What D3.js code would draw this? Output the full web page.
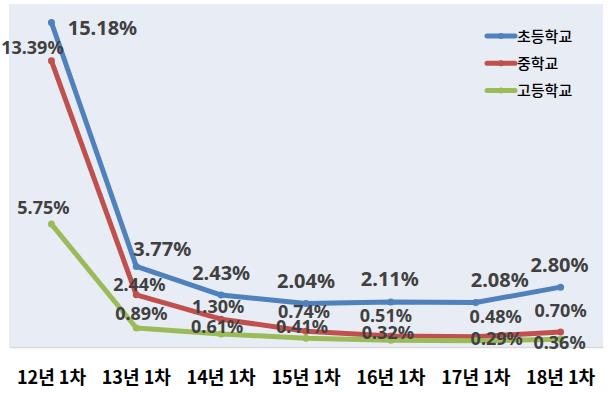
<!DOCTYPE html>
<html>
<head>
<meta charset="utf-8">
<script src="https://cdn.jsdelivr.net/npm/d3@7"></script>
<style>
  html, body { margin: 0; padding: 0; background: #fff; }
  svg { display: block; }
</style>
</head>
<body>
<div id="chart"></div>
<script>
// ---- data ----
const categories = ["12년 1차", "13년 1차", "14년 1차", "15년 1차", "16년 1차", "17년 1차", "18년 1차"];
const seriesNames = ["초등학교", "중학교", "고등학교"];
const elementary = [15.18, 3.77, 2.43, 2.04, 2.11, 2.08, 2.80];
const middle = [13.39, 2.44, 1.30, 0.74, 0.51, 0.48, 0.70];
const high = [5.75, 0.89, 0.61, 0.41, 0.32, 0.29, 0.36];

// ---- layout / style (not data) ----
const W = 608, H = 393;
const plot = { left: 9, right: 603, top: 5, bottom: 347 };
const colors = ["#4F81BD", "#C0504D", "#9BBB59"];
const labelSizes = [20, 18, 18];
// manual label offsets (dx, dy) relative to each point, as in the reference
const labelOffsets = [
  [[51, 12.5], [26, -10], [0, -15], [0, -15], [-1, -16], [24, -16], [-1, -15.5]],
  [[-19, -7], [3, -4], [-3, -6.5], [-2, -13], [-5, -14], [20, -14], [0, -15]],
  [[-8, -10], [5, -8], [-4, -1], [-4, -5], [-3, -1], [21, 4], [-1, 10]]
];

const series = [elementary, middle, high].map((vals, k) => ({ name: seriesNames[k], values: vals, color: colors[k], k }));

const svg = d3.select("#chart").append("svg").attr("width", W).attr("height", H);

const x = d3.scaleBand().domain(categories).range([plot.left, plot.right]).padding(0);
const y = d3.scaleLinear().domain([0, 16]).range([plot.bottom, plot.top]);
const cx = c => x(c) + x.bandwidth() / 2;

// plot background
svg.append("rect")
  .attr("x", plot.left).attr("y", plot.top - 1)
  .attr("width", plot.right - plot.left).attr("height", plot.bottom - plot.top + 1)
  .attr("fill", "#E8ECF4");

// x axis
const xAxis = svg.append("g")
  .attr("transform", `translate(0,${plot.bottom})`)
  .call(d3.axisBottom(x).tickSize(0).tickPadding(24));
xAxis.select(".domain").attr("stroke", "#D9D9D9").attr("stroke-width", 1.5);
xAxis.selectAll("text")
  .attr("font-family", "'Noto Sans CJK KR', 'Noto Sans', sans-serif")
  .attr("font-weight", "bold")
  .attr("font-size", 18)
  .attr("fill", "#000");

// lines
const line = d3.line()
  .x((d, i) => cx(categories[i]))
  .y(d => y(d));

const g = svg.append("g");
series.forEach(s => {
  g.append("path")
    .datum(s.values)
    .attr("d", line)
    .attr("fill", "none")
    .attr("stroke", s.color)
    .attr("stroke-width", 5)
    .attr("stroke-linejoin", "round")
    .attr("stroke-linecap", "round");
  g.selectAll(null)
    .data(s.values)
    .enter().append("circle")
    .attr("cx", (d, i) => cx(categories[i]))
    .attr("cy", d => y(d))
    .attr("r", 3.5)
    .attr("fill", s.color);
});

// labels
series.forEach(s => {
  svg.append("g").selectAll("text")
    .data(s.values)
    .enter().append("text")
    .attr("x", (d, i) => cx(categories[i]) + labelOffsets[s.k][i][0])
    .attr("y", (d, i) => y(d) + labelOffsets[s.k][i][1])
    .attr("text-anchor", "middle")
    .attr("font-family", "'Noto Sans', sans-serif")
    .attr("font-weight", "bold")
    .attr("font-size", labelSizes[s.k])
    .attr("fill", "#404040")
    .text(d => d.toFixed(2) + "%");
});

// legend
const legend = svg.append("g");
series.forEach((s, k) => {
  const ly = 36 + k * 27.2;
  legend.append("line")
    .attr("x1", 487).attr("x2", 515)
    .attr("y1", ly).attr("y2", ly)
    .attr("stroke", s.color).attr("stroke-width", 5)
    .attr("stroke-linecap", "round");
  legend.append("circle")
    .attr("cx", 501).attr("cy", ly).attr("r", 3).attr("fill", s.color);
  legend.append("text")
    .attr("x", 517).attr("y", ly + 5.5)
    .attr("font-family", "'Noto Sans CJK KR', sans-serif")
    .attr("font-size", 15)
    .attr("font-weight", 500)
    .attr("fill", "#000")
    .text(s.name);
});
</script>
</body>
</html>
